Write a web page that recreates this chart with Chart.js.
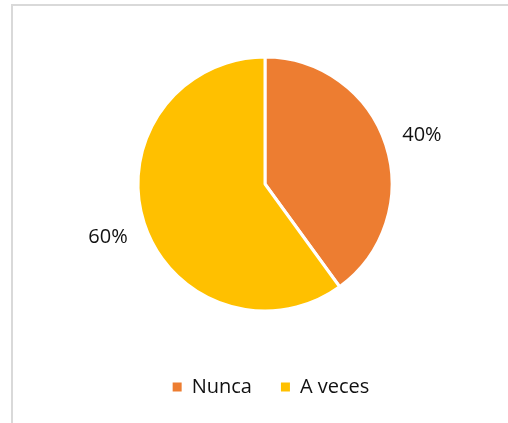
<!doctype html>
<html lang="es">
    <head>
        <meta charset="utf-8">
        <title>Nunca / A veces</title>
        <script src="https://cdn.jsdelivr.net/npm/chart.js"></script>
        <style>
        html, body {
            margin: 0;
            padding: 0;
            width: 508px;
            height: 423px;
            overflow: hidden;
            background-color: #ffffff;
        }
        #frame {
            position: absolute;
            left: 11px;
            top: 4px;
            width: 600px;
            height: 500px;
            border-left: 2px solid #d9d9d9;
            border-top: 2px solid #d9d9d9;
        }
        #chart {
            position: absolute;
            left: 0;
            top: 0;
        }
        </style>
    </head>
    <body>
        <div id="frame"></div>
        <canvas id="chart" width="508" height="423"></canvas>
        <script>
        const categories = ['Nunca', 'A veces'];
        const percentages = [40, 60];
        const sliceColors = ['#ed7d31', '#ffc000'];

        const textColor = '#111111';
        const fontFamily = '"Open Sans", "Noto Sans", sans-serif';

        // etiquetas de porcentaje fuera de cada sector
        const outsideLabels = {
            id: 'outsideLabels',
            afterDatasetsDraw(chart) {
                const ctx = chart.ctx;
                const meta = chart.getDatasetMeta(0);
                ctx.save();
                ctx.font = '20px ' + fontFamily;
                ctx.fillStyle = textColor;
                ctx.textAlign = 'center';
                ctx.textBaseline = 'middle';
                meta.data.forEach(function (arc, i) {
                    const p = arc.getProps(['x', 'y', 'startAngle', 'endAngle', 'outerRadius'], true);
                    const mid = (p.startAngle + p.endAngle) / 2;
                    const r = p.outerRadius + 38;
                    ctx.fillText(percentages[i] + '%', p.x + Math.cos(mid) * r, p.y + Math.sin(mid) * r + 2);
                });
                ctx.restore();
            }
        };

        // la leyenda va un poco a la derecha del centro del pastel
        const legendShift = {
            id: 'legendShift',
            afterLayout(chart) {
                chart.legend.left += 6;
                chart.legend.right += 6;
            }
        };

        const chart = new Chart(document.getElementById('chart'), {
            type: 'pie',
            data: {
                labels: categories,
                datasets: [{
                    data: percentages,
                    backgroundColor: sliceColors,
                    borderColor: '#ffffff',
                    borderWidth: 3,
                    hoverOffset: 0,
                    radius: 127
                }]
            },
            options: {
                responsive: false,
                animation: false,
                layout: {
                    padding: { top: 20, bottom: 16, left: 22, right: 0 }
                },
                plugins: {
                    legend: {
                        position: 'bottom',
                        labels: {
                            color: textColor,
                            font: { family: fontFamily, size: 20 },
                            boxWidth: 9,
                            boxHeight: 9,
                            padding: 29,
                            generateLabels(chart) {
                                const items = Chart.overrides.pie.plugins.legend.labels.generateLabels(chart);
                                items.forEach(function (item) { item.lineWidth = 0; });
                                return items;
                            }
                        }
                    },
                    tooltip: { enabled: false }
                }
            },
            plugins: [outsideLabels, legendShift]
        });
        </script>
    </body>
</html>
